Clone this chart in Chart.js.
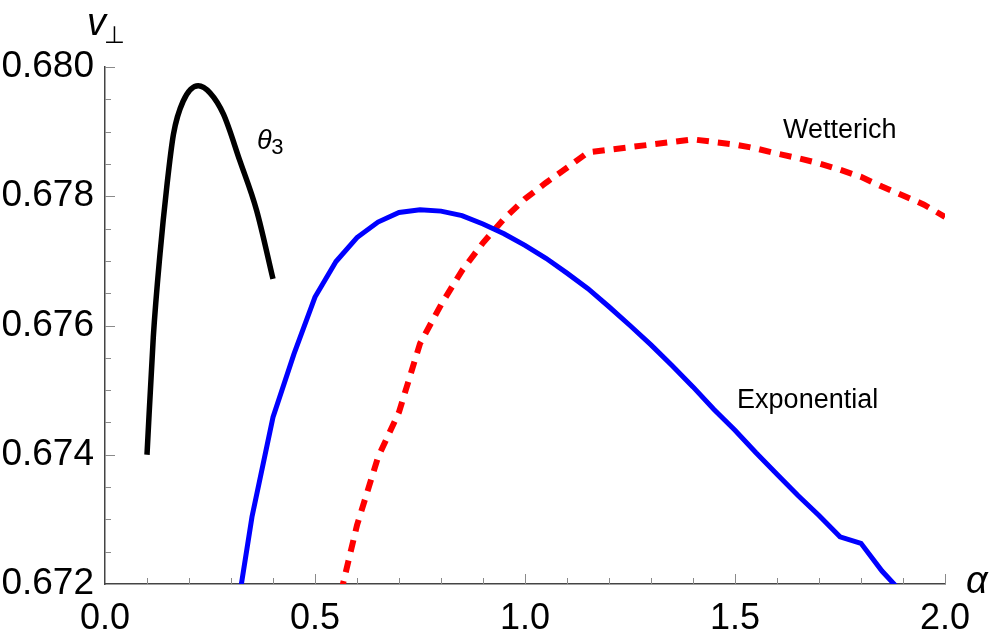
<!DOCTYPE html>
<html>
<head>
<meta charset="utf-8">
<script src="https://cdn.jsdelivr.net/npm/chart.js@4"></script>
<style>
  html, body { margin: 0; padding: 0; background: #fff; }
  #wrap { width: 997px; height: 642px; }
</style>
</head>
<body>
<div id="wrap"><canvas id="chart" width="997" height="642"></canvas></div>
<script>
// theta3 curve (black)
const theta3Alpha = [0.10, 0.115, 0.131, 0.147, 0.163, 0.186, 0.222, 0.25, 0.282, 0.321, 0.361, 0.40];
const theta3V = [0.67400, 0.67582, 0.67711, 0.67814, 0.67896, 0.67947, 0.67971, 0.67960, 0.67927, 0.67855, 0.67778, 0.67672];

// Exponential curve (blue)
const expAlpha = [0.30, 0.35, 0.40, 0.45, 0.50, 0.55, 0.60, 0.65, 0.70, 0.75, 0.80, 0.85, 0.90, 0.95,
  1.00, 1.05, 1.10, 1.15, 1.20, 1.25, 1.30, 1.35, 1.40, 1.45, 1.50, 1.55, 1.60, 1.65, 1.70, 1.75, 1.80, 1.85, 1.90];
const expV = [0.67098, 0.67304, 0.67458, 0.67556, 0.67644, 0.67699, 0.67736, 0.67760, 0.67775, 0.67779, 0.67777, 0.67770, 0.67757, 0.67742,
  0.67724, 0.67704, 0.67681, 0.67657, 0.67629, 0.67600, 0.67570, 0.67538, 0.67505, 0.67470, 0.67438, 0.67403, 0.67370, 0.67337, 0.67306, 0.67273, 0.67263, 0.67220, 0.67185];

// Wetterich curve (red dashed)
const wettAlpha = [0.55, 0.60, 0.65, 0.70, 0.75, 0.80, 0.85, 0.90, 0.95,
  1.00, 1.05, 1.10, 1.15, 1.20, 1.25, 1.30, 1.35, 1.40, 1.45, 1.50, 1.55, 1.60, 1.65, 1.70, 1.75, 1.80, 1.85, 1.90, 1.95, 2.00];
const wettV = [0.67155, 0.67291, 0.67396, 0.67466, 0.67572, 0.67632, 0.67685, 0.67728, 0.67765,
  0.67796, 0.67821, 0.67844, 0.67868, 0.67872, 0.67876, 0.67880, 0.67884, 0.67888, 0.67884, 0.67880, 0.67874, 0.67866, 0.67859, 0.67851, 0.67841, 0.67830, 0.67815, 0.67801, 0.67787, 0.67768];

const xTicks = [0.0, 0.5, 1.0, 1.5, 2.0];
const yTicks = [0.672, 0.674, 0.676, 0.678, 0.680];

function toPoints(xs, ys) {
  return xs.map((x, i) => ({ x: x, y: ys[i] }));
}

const FONT = '"Liberation Sans", Arial, sans-serif';

// inward tick marks + axis titles + curve labels
const decorations = {
  id: 'decorations',
  afterDraw(chart) {
    const ctx = chart.ctx;
    const xs = chart.scales.x;
    const ys = chart.scales.y;
    const x0 = xs.left, y0 = ys.bottom;
    ctx.save();
    ctx.strokeStyle = '#8a8a8a';
    ctx.lineWidth = 1;
    // x ticks
    for (let i = 1; i <= 20; i++) {
      const v = i / 10;
      const px = Math.round(xs.getPixelForValue(v)) + 0.5;
      const len = (i % 5 === 0) ? 10 : 6;
      ctx.beginPath();
      ctx.moveTo(px, y0);
      ctx.lineTo(px, y0 - len);
      ctx.stroke();
    }
    // y ticks
    for (let i = 1; i <= 16; i++) {
      const v = 0.672 + i * 0.0005;
      const py = Math.round(ys.getPixelForValue(v)) + 0.5;
      const len = (i % 4 === 0) ? 10 : 6;
      ctx.beginPath();
      ctx.moveTo(x0, py);
      ctx.lineTo(x0 + len, py);
      ctx.stroke();
    }

    ctx.fillStyle = '#000';
    ctx.textBaseline = 'alphabetic';
    ctx.textAlign = 'left';
    // axis titles
    ctx.font = 'italic 38px ' + FONT;
    ctx.fillText('α', 966, 593);
    ctx.fillText('v', 87, 35);
    ctx.font = '24px "DejaVu Sans", sans-serif';
    ctx.fillText('⊥', 104, 43);

    // curve labels
    ctx.font = 'italic 27px ' + FONT;
    const tx = xs.getPixelForValue(0.362);
    const ty = ys.getPixelForValue(0.67873);
    ctx.fillText('θ', tx, ty);
    ctx.font = '22px ' + FONT;
    ctx.fillText('3', tx + ctx.measureText('θ').width + 2, ty + 5);

    ctx.font = '27px ' + FONT;
    ctx.fillText('Wetterich', xs.getPixelForValue(1.614), ys.getPixelForValue(0.67890));
    ctx.fillText('Exponential', xs.getPixelForValue(1.505), ys.getPixelForValue(0.67472));
    ctx.restore();
  }
};

new Chart(document.getElementById('chart').getContext('2d'), {
  type: 'line',
  data: {
    datasets: [
      {
        label: 'theta3',
        data: toPoints(theta3Alpha, theta3V),
        borderColor: '#000000',
        borderWidth: 5.5,
        cubicInterpolationMode: 'monotone',
        pointRadius: 0,
        clip: 0
      },
      {
        label: 'Exponential',
        data: toPoints(expAlpha, expV),
        borderColor: '#0000ff',
        borderWidth: 5,
        tension: 0,
        pointRadius: 0,
        clip: 0
      },
      {
        label: 'Wetterich',
        data: toPoints(wettAlpha, wettV),
        borderColor: '#ff0000',
        borderWidth: 6,
        borderDash: [12, 9],
        tension: 0,
        pointRadius: 0,
        clip: 0
      }
    ]
  },
  options: {
    responsive: false,
    animation: false,
    layout: { padding: { top: 67, right: 52, left: 0, bottom: 0 } },
    plugins: {
      legend: { display: false },
      tooltip: { enabled: false }
    },
    scales: {
      x: {
        type: 'linear',
        min: 0,
        max: 2,
        afterBuildTicks: scale => { scale.ticks = xTicks.map(v => ({ value: v })); },
        afterFit: scale => { scale.height = 58; },
        grid: { display: false, drawTicks: false },
        border: { display: true, color: '#444', width: 1.5 },
        ticks: {
          padding: 13,
          color: '#000',
          maxRotation: 0,
          font: { family: FONT, size: 36 },
          callback: v => v.toFixed(1)
        }
      },
      y: {
        type: 'linear',
        min: 0.672,
        max: 0.680,
        afterBuildTicks: scale => { scale.ticks = yTicks.map(v => ({ value: v })); },
        afterFit: scale => { scale.width = 105; },
        grid: { display: false, drawTicks: false },
        border: { display: true, color: '#444', width: 1.5 },
        ticks: {
          padding: 11,
          color: '#000',
          font: { family: FONT, size: 37 },
          callback: v => v.toFixed(3)
        }
      }
    }
  },
  plugins: [decorations]
});
</script>
</body>
</html>
